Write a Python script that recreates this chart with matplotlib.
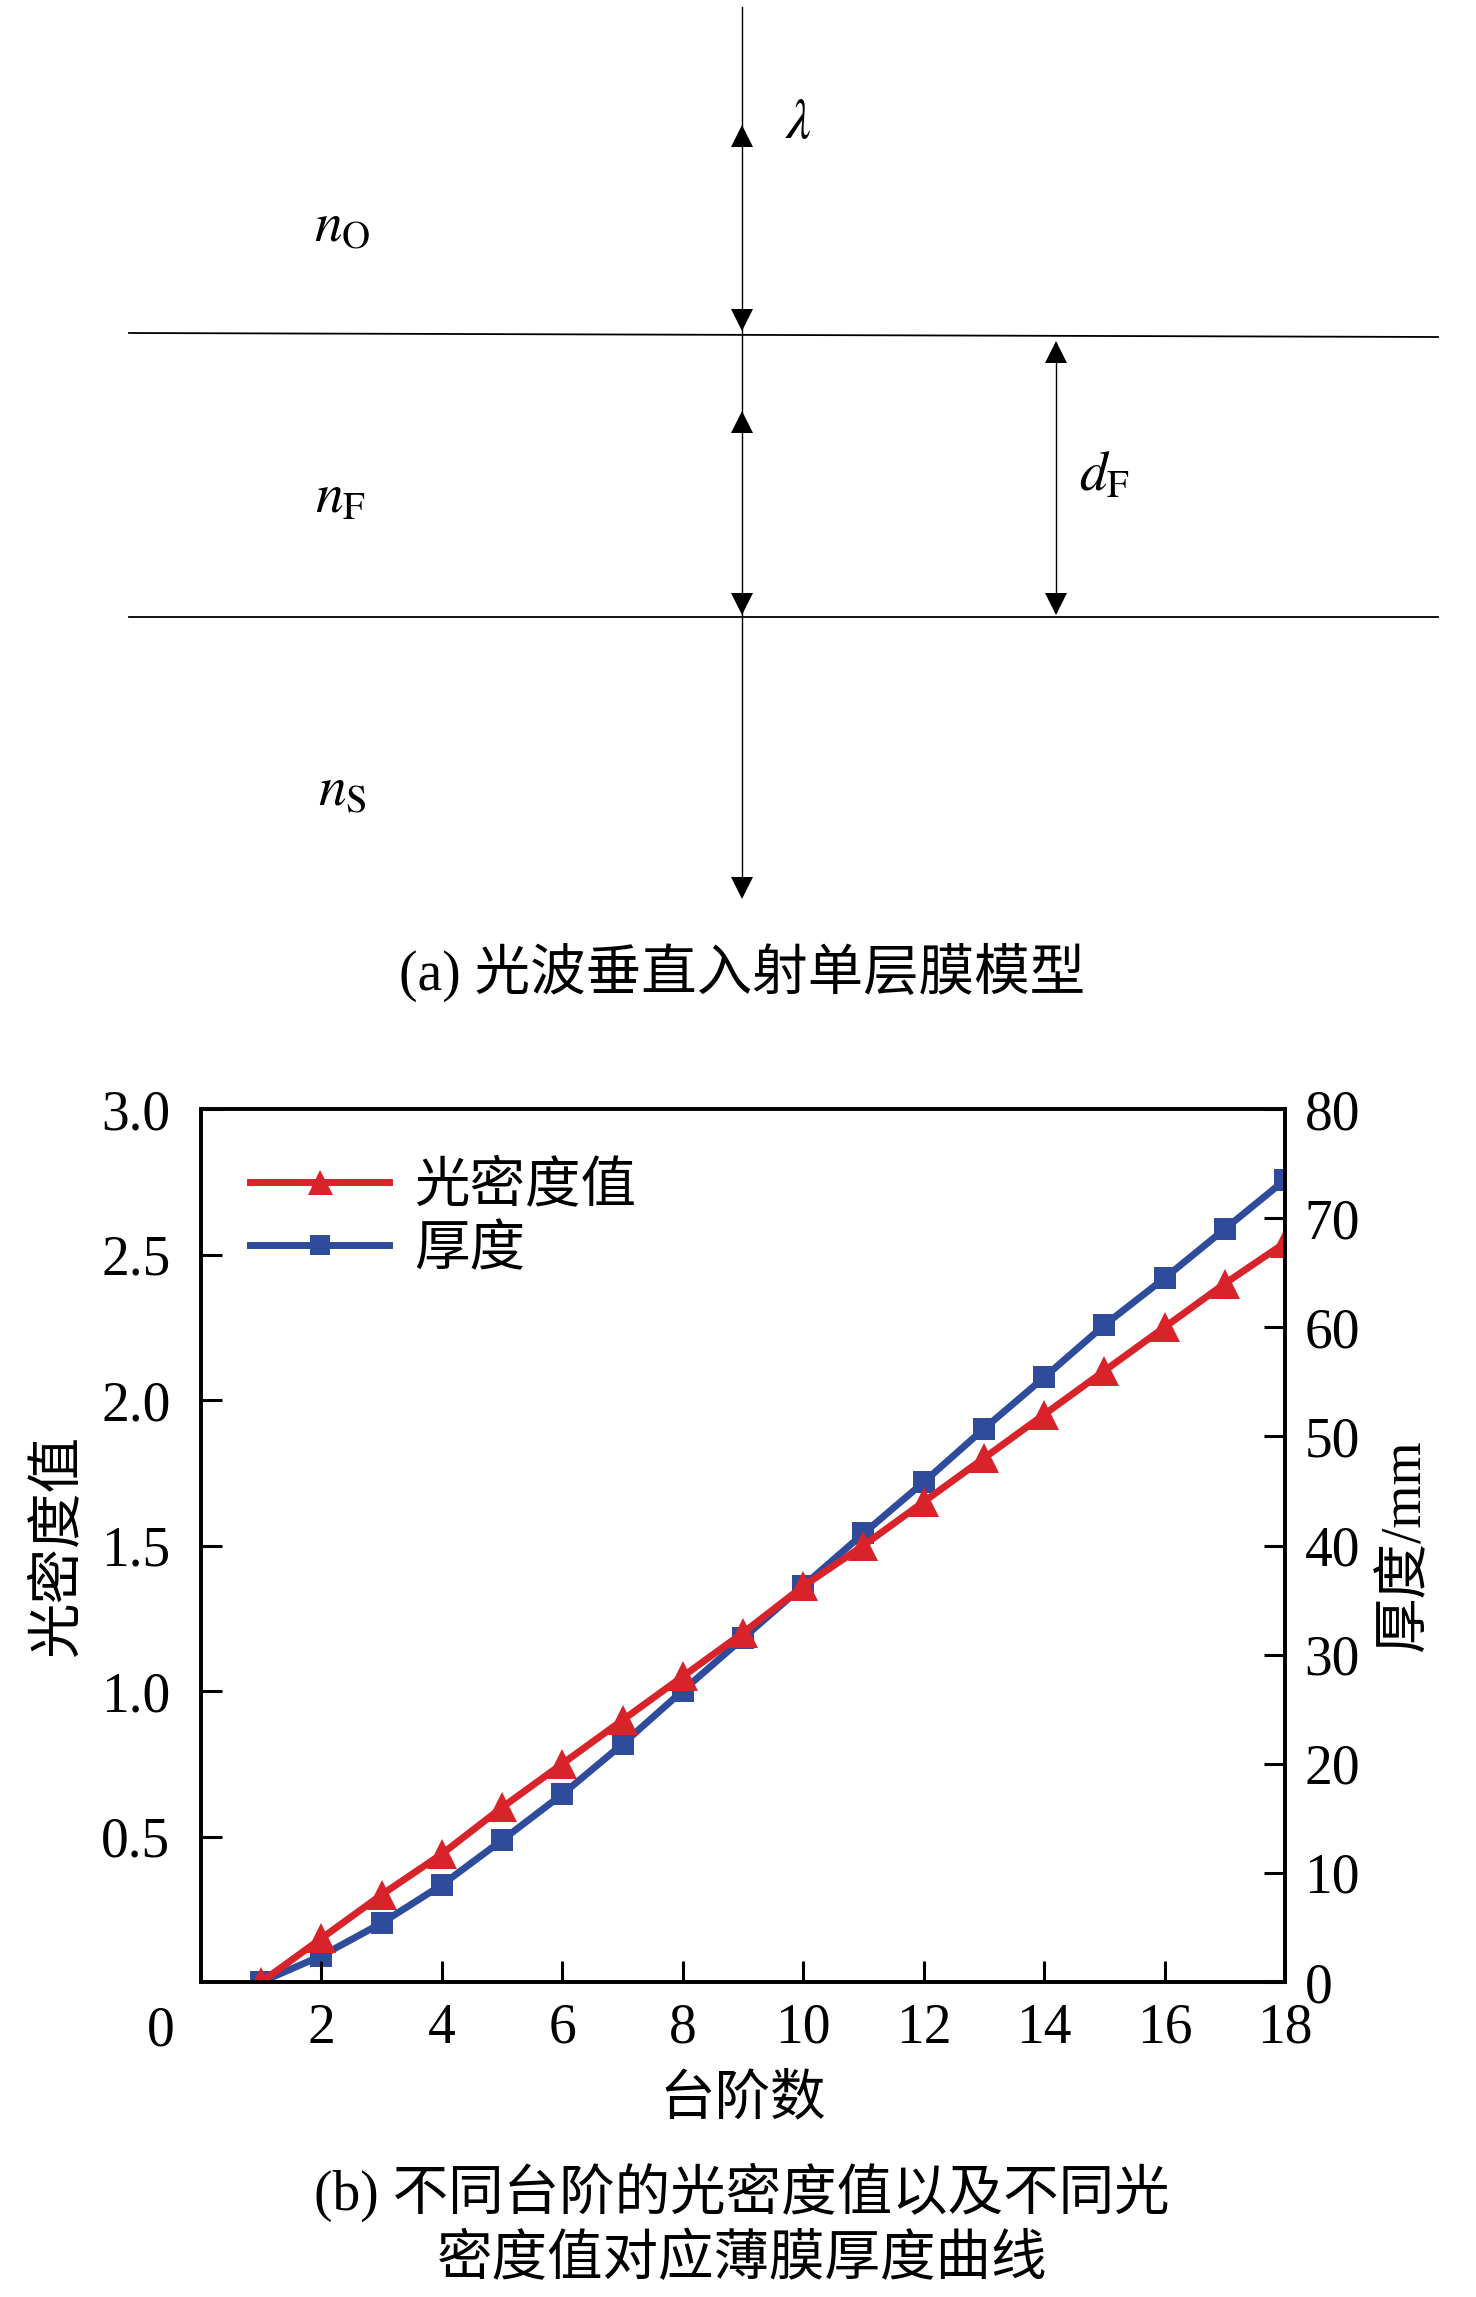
import matplotlib
matplotlib.use("Agg")
import matplotlib.pyplot as plt
from matplotlib.lines import Line2D

plt.rcParams['font.family'] = ['Liberation Serif', 'Noto Sans CJK SC']
plt.rcParams['mathtext.fontset'] = 'stix'

# ---- data ----
steps = list(range(1, 19))
density = [0.00, 0.15, 0.30, 0.44, 0.60, 0.75, 0.90, 1.05, 1.20,
           1.36, 1.50, 1.65, 1.80, 1.95, 2.10, 2.25, 2.40, 2.54]
thickness = [0.0, 2.4, 5.4, 8.9, 13.0, 17.2, 21.8, 26.7, 31.5,
             36.3, 41.1, 45.8, 50.7, 55.4, 60.2, 64.5, 69.0, 73.5]
x_ticks = [2, 4, 6, 8, 10, 12, 14, 16, 18]
left_ticks = [0.5, 1.0, 1.5, 2.0, 2.5, 3.0]
right_ticks = [0, 10, 20, 30, 40, 50, 60, 70, 80]

RED = "#d8232a"
BLUE = "#2f4b9c"
W, H = 1476, 2297

fig = plt.figure(figsize=(W / 100, H / 100), dpi=100)

# ---- (a) schematic, drawn in pixel coordinates ----
dax = fig.add_axes([0, 0, 1, 1])
dax.set_xlim(0, W)
dax.set_ylim(H, 0)
dax.axis("off")

XV, XD = 742, 1056      # x of the wave arrow and of the thickness arrow
Y1, Y2 = 335, 617       # the two interfaces

dax.plot([129, 1438], [Y1 - 2, Y1 + 2], color="black", lw=1.3)
dax.plot([129, 1438], [Y2, Y2], color="black", lw=1.3)
dax.plot([XV, XV], [7, 893], color="black", lw=1.0)
dax.plot([XD, XD], [343, 612], color="black", lw=1.0)

ms = 16
for y in [136, 422]:
    dax.plot(XV, y, marker="^", color="black", ms=ms, mew=0)
for y in [320, 604, 888]:
    dax.plot(XV, y, marker="v", color="black", ms=ms, mew=0)
dax.plot(XD, 352, marker="^", color="black", ms=ms, mew=0)
dax.plot(XD, 604, marker="v", color="black", ms=ms, mew=0)

tfs = 40
dax.text(342, 227, r"$n_{\mathrm{O}}$", fontsize=tfs, ha="center", va="center")
dax.text(340, 499, r"$n_{\mathrm{F}}$", fontsize=tfs, ha="center", va="center")
dax.text(342, 791, r"$n_{\mathrm{S}}$", fontsize=tfs, ha="center", va="center")
dax.text(798, 124, r"$\lambda$", fontsize=tfs, ha="center", va="center")
dax.text(1104, 477, r"$d_{\mathrm{F}}$", fontsize=tfs, ha="center", va="center")

cfs = 40
dax.text(742, 972, "(a) 光波垂直入射单层膜模型", fontsize=cfs, ha="center", va="center")
dax.text(742, 2192, "(b) 不同台阶的光密度值以及不同光", fontsize=cfs, ha="center", va="center")
dax.text(742, 2261, "密度值对应薄膜厚度曲线", fontsize=cfs, ha="center", va="center")

# ---- (b) chart ----
left, right, top, bottom = 201, 1285, 1109, 1982
ax = fig.add_axes([left / W, 1 - bottom / H, (right - left) / W, (bottom - top) / H])
ax2 = ax.twinx()
ax.set_zorder(ax2.get_zorder() + 1)
ax.patch.set_visible(False)

ax2.plot(steps, thickness, color=BLUE, lw=5, marker="s", ms=16, mew=0)
ax.plot(steps, density, color=RED, lw=5, marker="^", ms=22, mew=0)

ax.set_xlim(0, 18)
ax.set_ylim(0, 3.0)
ax2.set_ylim(0, 80)

fs = 40
ax.set_xticks(x_ticks)
ax.set_yticks(left_ticks)
ax.set_yticklabels([f"{v:.1f}" for v in left_ticks])
ax2.set_yticks(right_ticks)
ax.tick_params(axis="both", direction="in", length=15, width=2.2, labelsize=fs, pad=15)
ax.tick_params(axis="y", pad=22)
ax2.tick_params(axis="y", direction="in", length=15, width=2.2, labelsize=fs, pad=14)
for a in (ax, ax2):
    for s in a.spines.values():
        s.set_linewidth(2.6)

dax.text(161, 2031, "0", fontsize=fs, ha="center", va="center")

ax.set_xlabel("台阶数", fontsize=40, labelpad=14)
ax.set_ylabel("光密度值", fontsize=40, labelpad=12)
ax2.set_ylabel("厚度/mm", fontsize=40, labelpad=14)

handles = [
    Line2D([], [], color=RED, lw=5, marker="^", ms=18, mew=0),
    Line2D([], [], color=BLUE, lw=5, marker="s", ms=15, mew=0),
]
ax.legend(handles, ["光密度值", "厚度"], loc="upper left", frameon=False,
          fontsize=40, handlelength=2.5, handletextpad=0.45, labelspacing=0.2,
          numpoints=1, borderaxespad=0.0, bbox_to_anchor=(0.025, 0.965))

fig.savefig("out.png", dpi=100)
